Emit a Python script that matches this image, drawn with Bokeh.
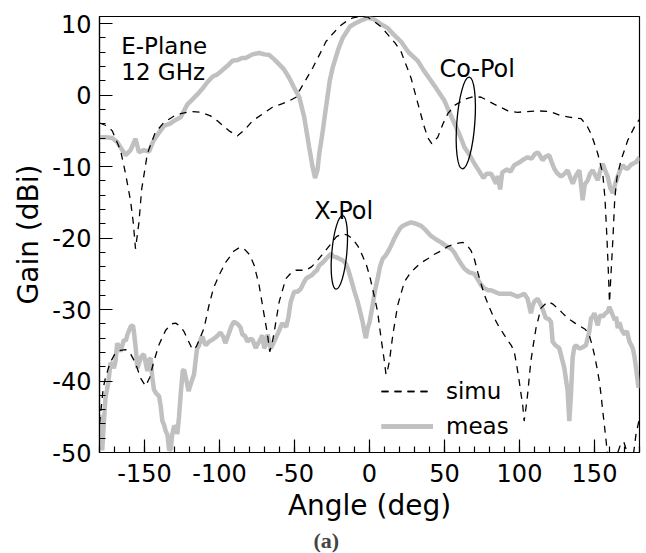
from bokeh.plotting import figure
from bokeh.models import Range1d, SingleIntervalTicker, Legend, LegendItem, Label, Title, PrintfTickFormatter
from bokeh.embed import file_html
from bokeh.resources import INLINE

# ---------------- data ----------------
copol_simu_x = [-180, -175, -171.5, -166, -162.6, -159.3, -157.5, -156, -153.7, -151.9, -148.1, -143, -137, -130,
                -125.9, -119, -112.6, -106, -101.4, -93.6, -88, -83, -78, -71, -64.7, -58, -53.5, -49, -46.8, -42,
                -37.9, -33, -29, -24, -20.1, -15, -11.2, -6, -1, 3.2, 8, 12.1, 17, 21, 24.8, 27.7, 31.5, 36.6, 39,
                41.5, 45.5, 49, 52.2, 57, 63.3, 69.3, 74.5, 79, 83.4, 87.6, 92.3, 98.7, 105, 112.1, 120.5, 127.7,
                134, 141.1, 145, 147.7, 150, 152.2, 155.5, 157, 158.3, 159.3, 160, 161, 162.3, 163.5, 165, 167.7,
                172.2, 177.7, 180]
copol_simu_y = [-3.9, -4.3, -5.0, -7.7, -11.0, -14.8, -17.8, -21.5, -17.8, -13.2, -8.2, -5.3, -3.8, -2.9,
                -2.6, -2.3, -2.4, -2.9, -3.6, -5.0, -5.7, -4.8, -3.6, -2.6, -1.7, -1.2, -0.8, -0.3, 0.6, 2.3,
                3.8, 5.8, 7.5, 8.7, 9.6, 10.4, 10.8, 11.0, 10.9, 10.3, 9.5, 8.5, 7.3, 6.1, 4.0, 2.4, -0.6, -4.5, -6.0,
                -6.8, -5.9, -4.0, -2.6, -1.4, -0.6, -0.2, -0.3, -0.8, -1.3, -1.7, -2.2, -2.4, -2.3, -2.2, -2.3, -2.9,
                -3.1, -3.3, -4.3, -5.4, -6.8, -8.2, -11.0, -14.5, -20, -25, -29, -25, -20, -14.5, -11.5, -9.1,
                -6.3, -4.0, -3.4]

copol_meas_x = [-180, -176, -171.5, -168, -166, -162.6, -159.3, -156, -153.7, -150.4, -147, -144.5, -142.6, -137,
                -133, -130.3, -125.9, -121.4, -118, -114.8, -111, -108.1, -104.5, -101.4, -97, -94.7, -91.4, -88,
                -85, -82.5, -78, -73.6, -70, -66.9, -63.5, -60.2, -57, -53.5, -50.4, -46.8, -43.5, -40.2, -38,
                -36.3, -34.7, -33.5, -31.5, -29, -26.5, -24.6, -21, -17.9, -13, -9, -5, -1.2, 3, 7, 12.1, 16, 21,
                26, 32.2, 36, 41, 45, 50, 53.5, 56.7, 60, 63.3, 66.5, 70, 73, 76, 78, 81.1, 84.4, 85.5, 87.1, 88.5,
                91.6, 94, 96.5, 100, 102.7, 105.4, 108, 110, 112.1, 113.5, 115.4, 117.5, 119.8, 121.5, 123.2, 125,
                127.7, 130, 132.1, 134, 135.5, 137.5, 139.9, 141, 142.1, 143.5, 145.5, 147, 148.8, 150.5, 152.2,
                154, 155.5, 157, 158.8, 160.5, 162.2, 164, 165.5, 167, 168.8, 170.5, 172.2, 174, 175.5, 177.5, 180]
copol_meas_y = [-5.9, -5.9, -6.0, -6.6, -7.3, -8.4, -7.7, -6.1, -8.0, -7.7, -7.9, -6.6, -5.9, -4.3,
                -4.0, -3.6, -3.1, -1.3, -0.6, 0.1, 1.0, 1.8, 2.6, 2.9, 3.7, 4.1, 4.8, 4.9,
                5.2, 5.2, 5.7, 5.9, 5.7, 5.6, 5.0, 4.3, 3.6, 2.4, 1.1, -0.3, -3.1, -7.3, -10,
                -11.6, -10.5, -8.2, -5.5, -1.7, 2.0, 3.8, 6.3, 8.0, 9.6, 10.1, 10.5, 10.8, 10.6, 10.0, 9.4, 8.5, 7.5,
                6.0, 4.8, 3.5, 2.0, 0.8, -0.8, -2.5, -4.0, -5.5, -7.3, -8.3, -9.6, -10.6, -11.6, -11.0, -11.0, -12.4,
                -11.3, -13.2, -10.8, -10.4, -10.7, -9.8, -9.4, -9.0, -8.7, -8.9, -8.3, -8.0, -8.4, -9.1, -8.6, -8.4,
                -9.4, -10.3, -10.9, -11.4, -11.0, -10.5, -11.6, -12.4, -11.3, -10.5, -12.5, -14.7, -12.5, -11.9,
                -11.0, -10.5, -11.2, -11.9, -10.4, -9.6, -10.5, -11.4, -13.0, -13.7, -12.3, -11.4, -10.5, -9.8,
                -10.2, -10.3, -9.8, -9.6, -9.4, -8.7]

xpol_simu_x = [-180, -179, -177.5, -176, -173, -170, -166, -162.6, -159, -156, -152.6, -149.3, -146.5, -143.7,
               -140.3, -135.9, -132, -129.2, -126, -123.6, -120.5, -118, -115.5, -113, -110.3, -107, -104, -100.3,
               -95.9, -90.3, -86.5, -83.6, -80, -76.9, -73.6, -70.2, -68, -66.5, -65, -63.5, -60.2, -55.8, -52,
               -49.1, -42.4, -38.5, -35.8, -31, -26.8, -22, -17.9, -14.5, -11.2, -7.5, -4.6, -2, 0, 2.1, 5.4, 7.7,
               9.9, 11, 12.2, 13.3, 15.5, 18.8, 23.3, 26.5, 30, 34, 38.8, 43, 47.7, 52, 56.7, 62.2, 65, 67.8, 70,
               72.2, 74.5, 76.7, 79.5, 82.2, 86, 90, 92, 94.5, 96.5, 98.3, 99.8, 101, 102.1, 103.1, 104.3, 105.4,
               106.5, 107.6, 109.3, 111, 114.3, 118.8, 122, 125.4, 128.7, 132.1, 137, 141, 144, 146.5, 148.2,
               149.9, 151.5, 153.2, 154.4, 155.5, 156.6, 157.7, 158.5, 160.5, 163, 165.5, 167.5, 169.5, 171.5,
               173.5, 175.5, 177.7, 180]
xpol_simu_y = [-46, -44, -41, -39.5, -37.5, -36.3, -35.7, -35.6, -36.3, -37.5, -39.6, -40.7, -39.5, -37.2,
               -34.9, -32.9, -32.0, -31.9, -32.4, -33.1, -34.5, -35.6, -35.2, -34.0, -32.6, -29.4, -27.0, -25.2,
               -23.4, -21.8, -21.3, -21.5, -22.3, -23.8, -26.6, -30.8, -33.5, -35.9, -34.8, -33.1, -28.9, -25.7, -24.8,
               -24.5, -24.5, -24.0, -23.4, -22.2, -21.1, -19.8, -19.4, -19.6, -20.1, -21.2, -22.5, -23.8, -25.2, -27.1,
               -30.3, -34, -37.2, -39.1, -38.3, -37.2, -33.6, -29.4, -26.1, -25.1, -24.3, -23.5, -22.9, -22.3, -21.8,
               -21.2, -20.8, -20.6, -21.0, -21.8, -23.0, -24.8, -26.5, -28.0, -29.5, -30.8, -32.3, -33.6, -34.3,
               -35.0, -35.9, -38, -40, -41.8, -43.3, -45.6, -43.8, -41.9, -39.5, -37.2, -34.8, -32.6, -29.8, -28.9,
               -29.2, -29.8, -30.5, -31.2, -31.9, -32.4, -32.8, -33.6, -34.8, -36.3, -38, -40, -42, -44.2, -46.2,
               -48.3, -50, -56, -56, -50, -48.8, -48.5, -49.8, -52, -51, -47.4, -45.2]

xpol_meas_x = [-180, -179, -178.2, -177, -176, -175, -174, -172.7, -171.5, -170.4, -169.3, -168.2, -167, -166,
               -164.8, -163.7, -162.5, -161.5, -159.3, -157.7, -157, -155.8, -154.8, -153.6, -152.6, -151.5, -150.4,
               -149.2, -148.1, -147, -145.9, -144.8, -143.7, -142, -140.3, -139.2, -138.1, -137, -135.9, -134.7,
               -133.6, -132.5, -131.5, -130.3, -129.2, -128.1, -127, -125.9, -124.5, -123.6, -122, -120.6, -119,
               -117, -115, -113.6, -112.3, -111.4, -110.3, -109.2, -107, -104.7, -102, -99.4, -97.5, -96.1, -94,
               -92, -90.4, -88, -86, -84.7, -83, -81.4, -79.5, -78, -75.8, -74.5, -73.2, -71.5, -70.2, -69, -68,
               -66.9, -65.8, -64.3, -62.5, -60, -58.2, -57, -55.5, -54, -52.5, -51.2, -50.2, -48, -45.8, -44,
               -42.4, -40.4, -38.5, -36.8, -35, -33.5, -31, -29, -27.5, -25.7, -24, -22, -20.1, -18, -15.7, -14,
               -12.4, -10, -7.9, -6, -4.6, -3.5, -2.4, -1.2, 0, 2.1, 3.5, 5.4, 7, 8.8, 10.5, 12.1, 14.3, 16.5,
               18.8, 20.5, 22.1, 25, 27.7, 31, 34.4, 37.5, 41, 44.5, 47.7, 51, 54.4, 56.5, 58.9, 61, 63.3, 66.5,
               70, 72.5, 74.5, 76.5, 79, 81, 83.4, 86.5, 90, 94.3, 96.5, 98.7, 101, 103.2, 105.4, 106.5, 107.6,
               108.7, 109.8, 112.1, 114.3, 116, 117.6, 119.3, 121, 122.1, 124, 126.5, 128.2, 129.9, 131, 132.1,
               133.2, 134.3, 135.4, 136.5, 137.7, 139.5, 141, 142.6, 144.3, 146.5, 147.7, 148.8, 149.9, 151.1,
               152.2, 153.3, 154.4, 155.5, 157, 158.8, 159.9, 161, 162.2, 163.5, 164.4, 165.5, 166.6, 168, 170,
               171.6, 173.3, 175.5, 176.6, 177.7, 178.5, 179.3, 180]
xpol_meas_y = [-44.7, -48, -49.7, -45.5, -42.3, -41.2, -40, -37.5, -37.6, -38.2, -37.2, -34.7, -35.2, -35.9,
               -35, -34.2, -34.4, -33.6, -32.4, -32.2, -33.2, -35.5, -38.2, -37.5, -36.8, -36.4, -36.3,
               -37.5, -38.6, -37, -36.8, -39.5, -41.2, -41.8, -42.1, -43.5, -45.6, -46.1, -47, -47.5,
               -49.7, -49.5, -47.5, -46.3, -46.5, -47.4, -45, -41.9, -38.6, -38.4, -40, -41.4, -40.3,
               -39.1, -35.5, -35, -34, -33.8, -34.5, -35, -34.5, -34.2, -33.8, -33.2, -33.8, -34.7, -33.5,
               -32.3, -31.7, -32, -32.5, -33.5, -33.7, -34.5, -34.1, -34.2, -35.4, -34.8, -34.4, -33.6, -35.4, -34.9,
               -33.5, -34.6, -35.4, -34.8, -34, -32.8, -31.9, -32.2, -32.4, -31, -28.9, -28.1, -27.5, -27.5, -27.1,
               -26.3, -25.7, -25.4, -25.2, -24.8, -24.5, -23.8, -23.4, -22.9, -22.6, -22.2, -22.6, -22.7, -22.9,
               -23.1, -23.6, -24.5, -25.7, -27.5, -28.9, -30.5, -31.7, -33, -34, -32.6, -31.8, -29.4, -27.5, -25.7,
               -24, -22.9, -22.5, -22, -21.1, -20.1, -19.2, -18.6, -18.3, -18.0, -17.8, -18, -18.3, -18.9, -19.7,
               -20.2, -20.6, -21.1, -21.5, -22, -22.9, -23.6, -24.3, -24.8, -25, -25.9, -26.6, -27, -27.3, -27.3,
               -27.5, -27.8, -27.8, -27.8, -28.0, -28.2, -28, -27.8, -28.5, -29.5, -30.5, -29.5, -28.9, -28.5,
               -29.4, -30.3, -31.2, -31.3, -31.7, -34.5, -35, -35.4, -36.8, -38.2, -39.8, -41.4, -45.6, -41.9,
               -36.8, -35.3, -35, -35.4, -35.4, -35.2, -35, -33.1, -31.2, -31, -30.5, -31.5, -32.2, -31, -30.8,
               -31, -30.6, -30.3, -29.6, -30.2, -30.8, -31.5, -31, -32.6, -31.8, -32.8, -33.5, -33, -34.5, -35.4,
               -36.5, -38.2, -39.5, -40.9, -40.5]

# annotations
note_text = ["E-Plane", "12 GHz"]
note_x = [-165.5, -165.5]
note_y = [6.84, 3.23]
pol_text = ["Co-Pol", "X-Pol"]
pol_x = [46.6, -36.8]
pol_y = [3.6, -16.2]
ell_x = [64.2, -20.1]
ell_y = [-3.9, -22.0]
ell_w = [18, 15]
ell_h = [92, 74]
ell_a = [-0.075, -0.09]

FONT = "DejaVu Sans"
GRAY = "#c0c0c0"

p = figure(width=646, height=553, x_range=Range1d(-180, 180), y_range=Range1d(-50, 11),
           output_backend="svg", toolbar_location=None,
           min_border_left=99, min_border_right=7, min_border_top=16, min_border_bottom=98)
p.xgrid.visible = False
p.ygrid.visible = False
p.outline_line_color = "black"
p.outline_line_width = 1.2
p.background_fill_color = "white"
p.border_fill_color = "white"

p.xaxis.ticker = SingleIntervalTicker(interval=50, num_minor_ticks=5)
p.yaxis.ticker = SingleIntervalTicker(interval=10, num_minor_ticks=5)
for ax in (p.xaxis[0], p.yaxis[0]):
    ax.formatter = PrintfTickFormatter(format="%d")
    ax.major_tick_in = 13
    ax.major_tick_out = 0
    ax.minor_tick_in = 6
    ax.minor_tick_out = 0
    ax.axis_line_width = 1.2
    ax.major_tick_line_width = 1.2
    ax.minor_tick_line_width = 1.2
    ax.major_label_text_font = FONT
    ax.major_label_text_font_size = "24px"
    ax.major_label_text_color = "black"
    ax.axis_label_text_font = FONT
    ax.axis_label_text_font_size = "28px"
    ax.axis_label_text_font_style = "normal"
    ax.axis_label_text_color = "black"
p.xaxis.axis_label = "Angle (deg)"
p.yaxis.axis_label = "Gain (dBi)"
p.xaxis.major_label_standoff = 11
p.yaxis.major_label_standoff = 8
p.xaxis.axis_label_standoff = 4
p.yaxis.axis_label_standoff = 4

r_cm = p.line(copol_meas_x, copol_meas_y, line_color=GRAY, line_width=4.5)
r_xm = p.line(xpol_meas_x, xpol_meas_y, line_color=GRAY, line_width=4.5)
r_cs = p.line(copol_simu_x, copol_simu_y, line_color="black", line_width=1.3, line_dash="7 6")
r_xs = p.line(xpol_simu_x, xpol_simu_y, line_color="black", line_width=1.3, line_dash="7 6")

p.ellipse(x=ell_x, y=ell_y, width=ell_w, height=ell_h, angle=ell_a,
          width_units="screen", height_units="screen",
          fill_alpha=0, line_color="black", line_width=1.3)

for t, x, y in zip(note_text, note_x, note_y):
    p.add_layout(Label(x=x, y=y, text=t, text_font=FONT, text_font_size="23px",
                       text_baseline="alphabetic", text_color="black"))
for t, x, y in zip(pol_text, pol_x, pol_y):
    p.add_layout(Label(x=x, y=y, text=t, text_font=FONT, text_font_size="24px",
                       text_baseline="alphabetic", text_color="black"))

legend = Legend(items=[LegendItem(label="simu", renderers=[r_cs, r_xs]),
                       LegendItem(label="meas", renderers=[r_cm, r_xm])],
                location=(282, 13), border_line_alpha=0, background_fill_alpha=0,
                glyph_width=52, glyph_height=24, label_height=24, label_standoff=13,
                spacing=9, padding=0, margin=0,
                label_text_font=FONT, label_text_font_size="23px", label_text_color="black")
p.add_layout(legend)

p.add_layout(Title(text="(a)", align="left", offset=214, text_font="Liberation Serif",
                   text_font_style="bold", text_font_size="22px", standoff=2), "below")

open("out.html", "w").write(file_html(p, INLINE))
